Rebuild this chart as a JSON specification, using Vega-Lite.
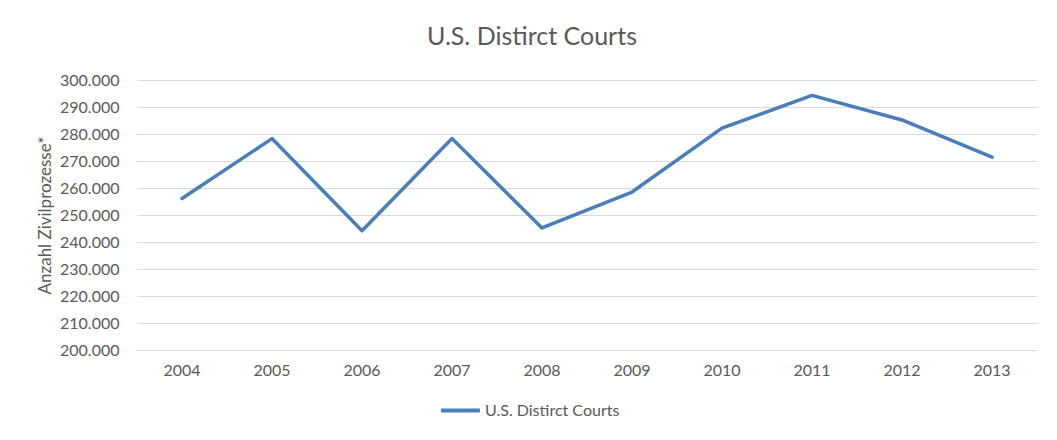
{
  "$schema": "https://vega.github.io/schema/vega-lite/v6.json",
  "autosize": {"type": "none"},
  "width": 900,
  "height": 270,
  "padding": {"left": 137, "top": 80, "right": 20, "bottom": 90},
  "background": "white",
  "config": {
    "locale": {"number": {"decimal": ",", "thousands": ".", "grouping": [3], "currency": ["", " €"]}},
    "font": "Lato",
    "view": {"stroke": null}
  },
  "title": {
    "text": "U.S. Distirct Courts",
    "fontSize": 25,
    "fontWeight": "normal",
    "color": "#595959",
    "font": "Lato",
    "anchor": "middle",
    "dx": -55,
    "offset": 22
  },
  "data": {
    "values": [
      {"Jahr": "2004", "Wert": 256100, "Serie": "U.S. Distirct Courts"},
      {"Jahr": "2005", "Wert": 278300, "Serie": "U.S. Distirct Courts"},
      {"Jahr": "2006", "Wert": 244200, "Serie": "U.S. Distirct Courts"},
      {"Jahr": "2007", "Wert": 278300, "Serie": "U.S. Distirct Courts"},
      {"Jahr": "2008", "Wert": 245200, "Serie": "U.S. Distirct Courts"},
      {"Jahr": "2009", "Wert": 258500, "Serie": "U.S. Distirct Courts"},
      {"Jahr": "2010", "Wert": 282200, "Serie": "U.S. Distirct Courts"},
      {"Jahr": "2011", "Wert": 294300, "Serie": "U.S. Distirct Courts"},
      {"Jahr": "2012", "Wert": 285200, "Serie": "U.S. Distirct Courts"},
      {"Jahr": "2013", "Wert": 271400, "Serie": "U.S. Distirct Courts"}
    ]
  },
  "mark": {"type": "line", "strokeWidth": 3.5, "strokeCap": "round", "strokeJoin": "round"},
  "encoding": {
    "x": {
      "field": "Jahr",
      "type": "ordinal",
      "scale": {"type": "band", "paddingInner": 0, "paddingOuter": 0},
      "axis": {
        "title": null,
        "labelAngle": 0,
        "labelFontSize": 16,
        "labelColor": "#595959",
        "labelPadding": 12,
        "ticks": false,
        "domainColor": "#d9d9d9",
        "domainWidth": 1,
        "grid": false
      }
    },
    "y": {
      "field": "Wert",
      "type": "quantitative",
      "scale": {"domain": [200000, 300000], "nice": false, "zero": false},
      "axis": {
        "title": "Anzahl Zivilprozesse*",
        "titleFontSize": 17,
        "titleFontWeight": "normal",
        "titleColor": "#595959",
        "titlePadding": 5,
        "values": [200000, 210000, 220000, 230000, 240000, 250000, 260000, 270000, 280000, 290000, 300000],
        "format": ",d",
        "labelFontSize": 16,
        "labelColor": "#595959",
        "labelPadding": 18,
        "ticks": false,
        "domain": false,
        "gridColor": "#d9d9d9",
        "gridWidth": 1
      }
    },
    "color": {
      "field": "Serie",
      "type": "nominal",
      "scale": {"range": ["#4a7ebb"]},
      "legend": {
        "title": null,
        "orient": "none",
        "legendX": 302,
        "legendY": 309,
        "symbolType": "stroke",
        "symbolSize": 1500,
        "symbolStrokeWidth": 4,
        "labelFontSize": 16,
        "labelColor": "#595959",
        "labelOffset": 3
      }
    }
  }
}
